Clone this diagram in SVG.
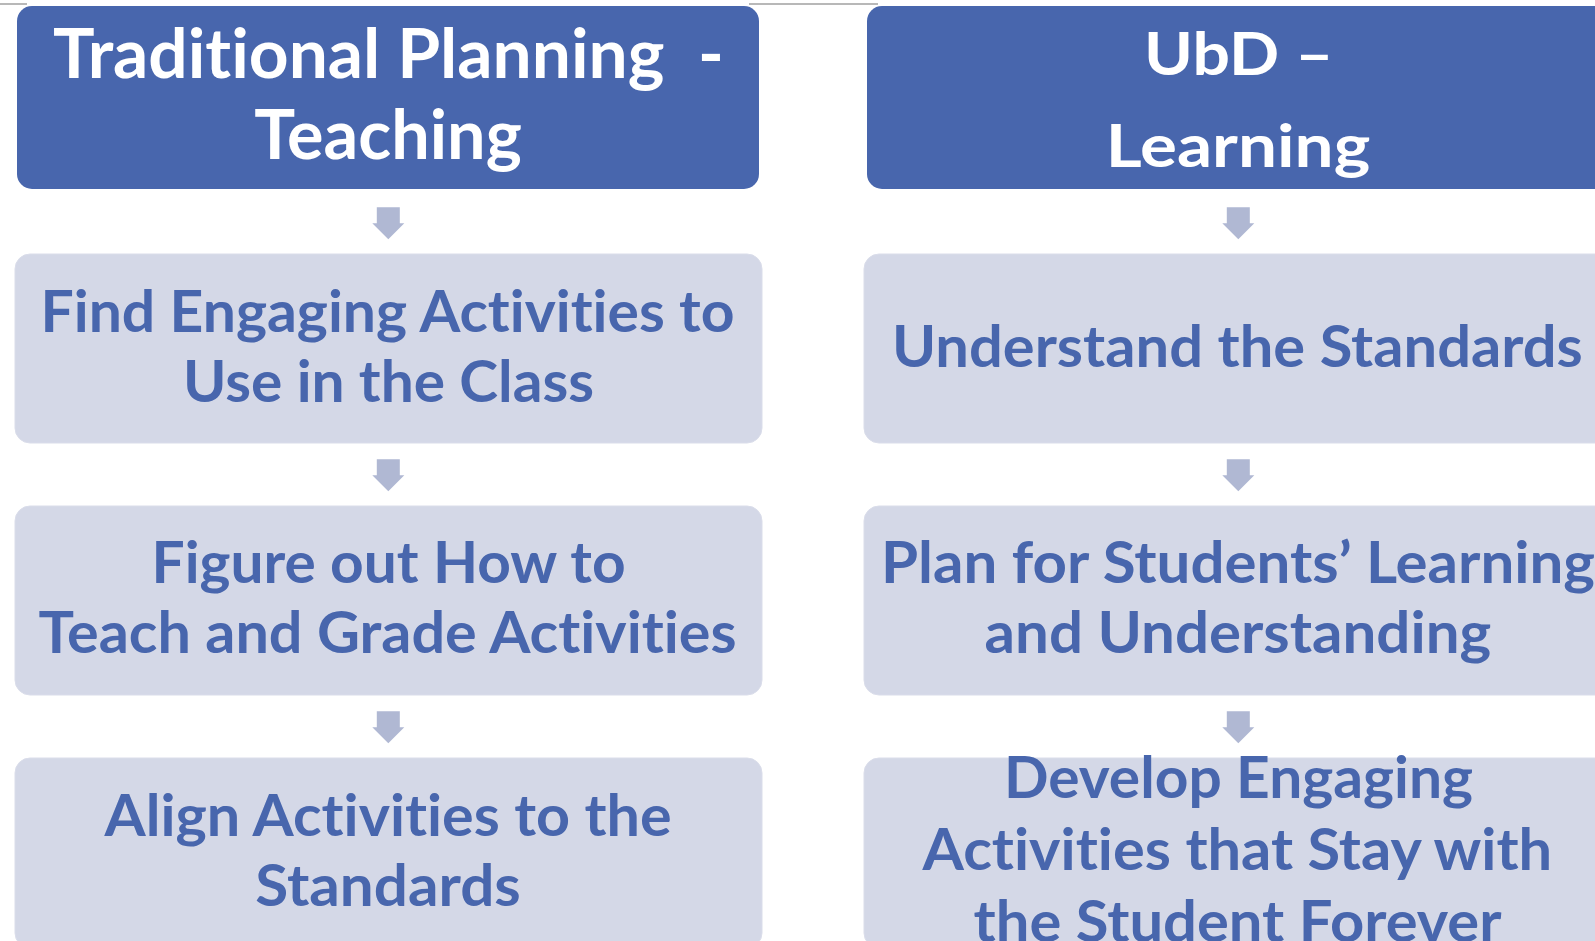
<svg xmlns="http://www.w3.org/2000/svg" width="1595" height="941" viewBox="0 0 1595 941">
<style>
.hdr{fill:#4866AD;}
.box{fill:#D4D8E7;stroke:#DADDEA;stroke-width:1;}
.arr{fill:#B0B8D3;}
.ht{font-family:Lato,"Open Sans","Liberation Sans",sans-serif;font-weight:700;fill:#FFFFFF;text-anchor:middle;white-space:pre;font-variant-ligatures:none;}
.bt{font-family:Lato,"Open Sans","Liberation Sans",sans-serif;font-weight:700;fill:#4866AD;text-anchor:middle;font-size:57px;font-variant-ligatures:none;}
</style>
<defs>
<path id="arrow" d="M-11.5,0 H11.5 V16 H16 L0,32 L-16,16 H-11.5 Z"/>
</defs>
<rect width="1595" height="941" fill="#FFFFFF"/>
<g id="topline" stroke="#A0A0A0" stroke-width="1.5">
<line x1="0" y1="4" x2="27" y2="4"/>
<line x1="749" y1="4" x2="878" y2="4"/>
</g>
<g id="connectors">
<use href="#arrow" class="arr" x="388.3" y="207.3"/>
<use href="#arrow" class="arr" x="388.3" y="459.3"/>
<use href="#arrow" class="arr" x="388.3" y="711.3"/>
<use href="#arrow" class="arr" x="1238.3" y="207.3"/>
<use href="#arrow" class="arr" x="1238.3" y="459.3"/>
<use href="#arrow" class="arr" x="1238.3" y="711.3"/>
</g>
<g id="hdr-left">
<rect class="hdr" x="17" y="6" width="742" height="183" rx="15"/>
<text class="ht" font-size="68" x="388.5" y="78.3" textLength="671" lengthAdjust="spacingAndGlyphs">Traditional Planning  -</text>
<text class="ht" font-size="68" x="388" y="159.3" textLength="267.5" lengthAdjust="spacingAndGlyphs">Teaching</text>
</g>
<g id="hdr-right">
<rect class="hdr" x="867" y="6" width="742" height="183" rx="15"/>
<text class="ht" font-size="60" x="1238.7" y="75" textLength="189.5" lengthAdjust="spacingAndGlyphs">UbD –</text>
<text class="ht" font-size="60" x="1238" y="166.7" textLength="264.5" lengthAdjust="spacingAndGlyphs">Learning</text>
</g>
<g id="left-1">
<rect class="box" x="15" y="254" width="747" height="189" rx="15"/>
<text class="bt" x="387.5" y="331.7" textLength="694" lengthAdjust="spacingAndGlyphs">Find Engaging Activities to</text>
<text class="bt" x="388.5" y="401.7" textLength="411" lengthAdjust="spacingAndGlyphs">Use in the Class</text>
</g>
<g id="left-2">
<rect class="box" x="15" y="506" width="747" height="189" rx="15"/>
<text class="bt" x="388.6" y="583.3" textLength="474" lengthAdjust="spacingAndGlyphs">Figure out How to</text>
<text class="bt" x="387.6" y="653.3" textLength="698" lengthAdjust="spacingAndGlyphs">Teach and Grade Activities</text>
</g>
<g id="left-3">
<rect class="box" x="15" y="758" width="747" height="190" rx="15"/>
<text class="bt" x="388.1" y="836" textLength="567" lengthAdjust="spacingAndGlyphs">Align Activities to the</text>
<text class="bt" x="388" y="906" textLength="265.5" lengthAdjust="spacingAndGlyphs">Standards</text>
</g>
<g id="right-1">
<rect class="box" x="864" y="254" width="748" height="189" rx="15"/>
<text class="bt" x="1237.4" y="366.7" textLength="690.7" lengthAdjust="spacingAndGlyphs">Understand the Standards</text>
</g>
<g id="right-2">
<rect class="box" x="864" y="506" width="748" height="189" rx="15"/>
<text class="bt" x="1238" y="583.3" textLength="714" lengthAdjust="spacingAndGlyphs">Plan for Students’ Learning</text>
<text class="bt" x="1237.9" y="652.5" textLength="506.6" lengthAdjust="spacingAndGlyphs">and Understanding</text>
</g>
<g id="right-3">
<rect class="box" x="864" y="758" width="748" height="190" rx="15"/>
<text class="bt" x="1238.5" y="798.3" textLength="469" lengthAdjust="spacingAndGlyphs">Develop Engaging</text>
<text class="bt" x="1237.4" y="870" textLength="629.6" lengthAdjust="spacingAndGlyphs">Activities that Stay with</text>
<text class="bt" x="1237.5" y="942" textLength="528" lengthAdjust="spacingAndGlyphs">the Student Forever</text>
</g>
</svg>
